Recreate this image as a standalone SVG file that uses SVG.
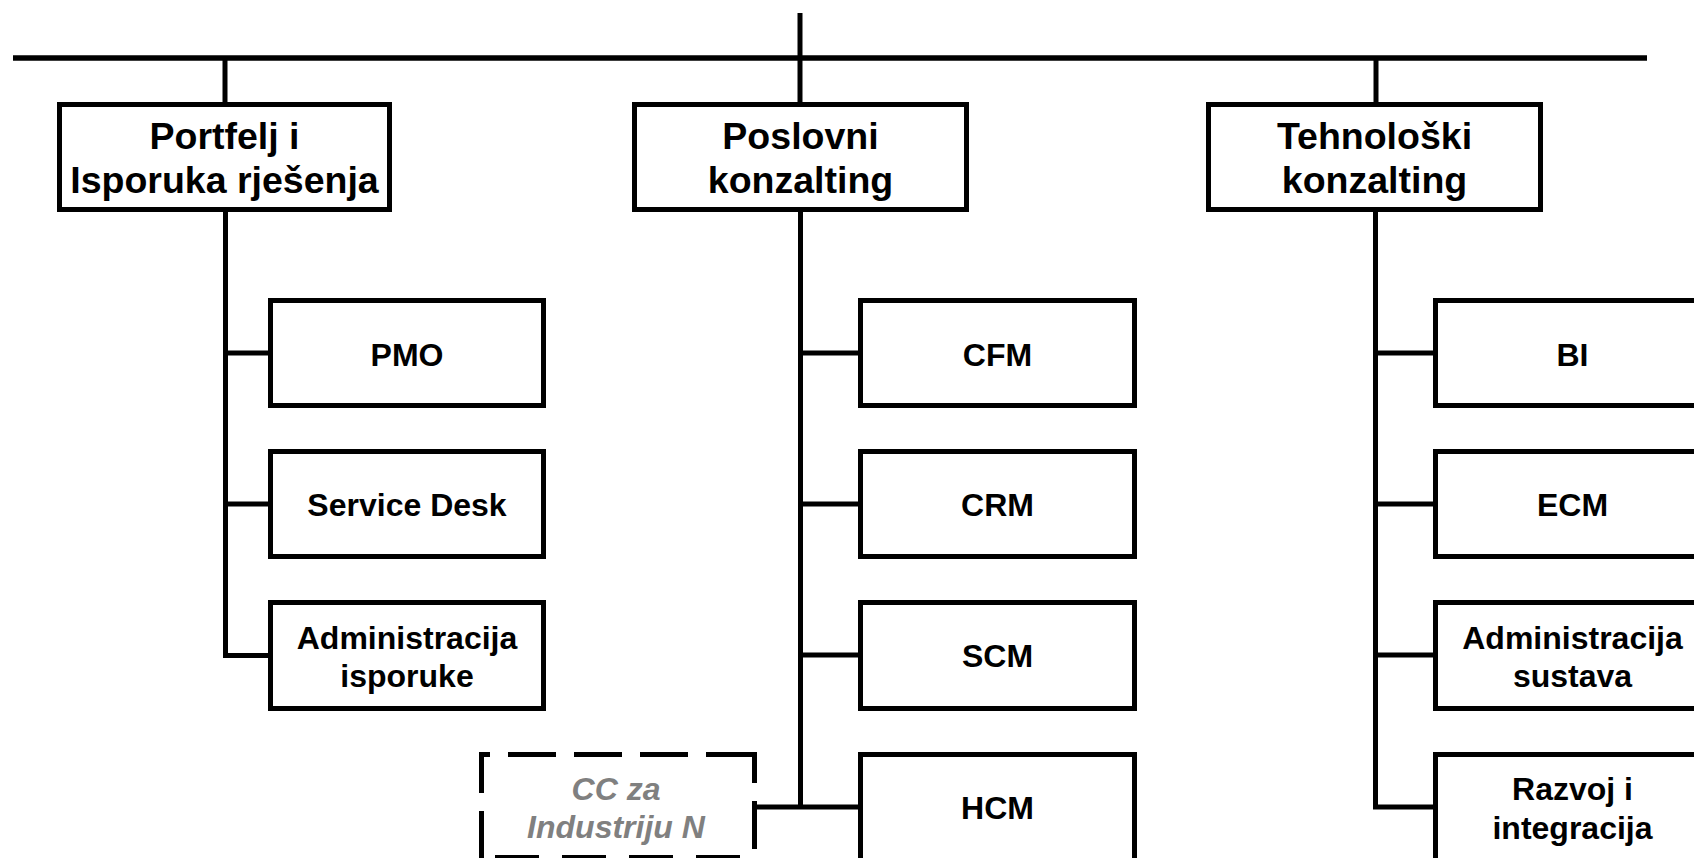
<svg xmlns="http://www.w3.org/2000/svg" width="1694" height="858" viewBox="0 0 1694 858">
<style>
.box{fill:#fff;stroke:#000;stroke-width:5}
.ln{stroke:#000;stroke-width:5;fill:none}
.dash{stroke:#000;stroke-width:5;fill:none;stroke-dasharray:48 18}
text{font-family:"Liberation Sans",Arial,sans-serif;font-weight:bold;text-anchor:middle;fill:#000}
.h{font-size:37.5px}
.c{font-size:32px}
.g{font-size:32px;font-style:italic;fill:#808080}
</style>
<rect width="1694" height="858" fill="#fff"/>
<g id="connectors">
<line class="ln" x1="13" y1="58" x2="1647" y2="58" style="stroke-width:5.5"/>
<line class="ln" x1="800" y1="13" x2="800" y2="103"/>
<line class="ln" x1="225" y1="58" x2="225" y2="103"/>
<line class="ln" x1="1376" y1="58" x2="1376" y2="103"/>
<polyline class="ln" points="225.5,211 225.5,655.5 268,655.5"/>
<line class="ln" x1="225.5" y1="353" x2="268" y2="353"/>
<line class="ln" x1="225.5" y1="504" x2="268" y2="504"/>
<polyline class="ln" points="800.5,211 800.5,807"/>
<line class="ln" x1="800.5" y1="353" x2="858" y2="353"/>
<line class="ln" x1="800.5" y1="504" x2="858" y2="504"/>
<line class="ln" x1="800.5" y1="655" x2="858" y2="655"/>
<line class="ln" x1="757" y1="807" x2="858" y2="807"/>
<polyline class="ln" points="1375.5,211 1375.5,807 1433,807"/>
<line class="ln" x1="1375.5" y1="353" x2="1433" y2="353"/>
<line class="ln" x1="1375.5" y1="504" x2="1433" y2="504"/>
<line class="ln" x1="1375.5" y1="655" x2="1433" y2="655"/>
</g>
<g id="portfelj">
<rect class="box" x="59.5" y="104.5" width="330" height="105"/>
<text class="h" x="224.5" y="148.5">Portfelj i</text>
<text class="h" x="224.5" y="192.5">Isporuka rješenja</text>
</g>
<g id="poslovni">
<rect class="box" x="634.5" y="104.5" width="332" height="105"/>
<text class="h" x="800.5" y="148.5">Poslovni</text>
<text class="h" x="800.5" y="192.5">konzalting</text>
</g>
<g id="tehnoloski">
<rect class="box" x="1208.5" y="104.5" width="332" height="105"/>
<text class="h" x="1374.5" y="148.5">Tehnološki</text>
<text class="h" x="1374.5" y="192.5">konzalting</text>
</g>
<g id="pmo">
<rect class="box" x="270.5" y="300.5" width="273" height="105"/>
<text class="c" x="407" y="365.5">PMO</text>
</g>
<g id="servicedesk">
<rect class="box" x="270.5" y="451.5" width="273" height="105"/>
<text class="c" x="407" y="516">Service Desk</text>
</g>
<g id="adminisporuke">
<rect class="box" x="270.5" y="602.5" width="273" height="106"/>
<text class="c" x="407" y="648.5">Administracija</text>
<text class="c" x="407" y="687">isporuke</text>
</g>
<g id="cfm">
<rect class="box" x="860.5" y="300.5" width="274" height="105"/>
<text class="c" x="997.5" y="365.5">CFM</text>
</g>
<g id="crm">
<rect class="box" x="860.5" y="451.5" width="274" height="105"/>
<text class="c" x="997.5" y="516">CRM</text>
</g>
<g id="scm">
<rect class="box" x="860.5" y="602.5" width="274" height="106"/>
<text class="c" x="997.5" y="667">SCM</text>
</g>
<g id="hcm">
<rect class="box" x="860.5" y="754.5" width="274" height="112"/>
<text class="c" x="997.5" y="819">HCM</text>
</g>
<g id="ccindustrija">
<line class="dash" x1="479" y1="754.5" x2="757" y2="754.5" stroke-dashoffset="37"/>
<line class="dash" x1="754.5" y1="752" x2="754.5" y2="858" stroke-dashoffset="17"/>
<line class="dash" x1="481.5" y1="752" x2="481.5" y2="858" stroke-dashoffset="7"/>
<line class="ln" x1="495" y1="857.5" x2="746" y2="857.5" style="stroke-dasharray:44 23"/>
<text class="g" x="616" y="800">CC za</text>
<text class="g" x="616" y="838">Industriju N</text>
</g>
<g id="bi">
<rect class="box" x="1435.5" y="300.5" width="274" height="105"/>
<text class="c" x="1572.5" y="365.5">BI</text>
</g>
<g id="ecm">
<rect class="box" x="1435.5" y="451.5" width="274" height="105"/>
<text class="c" x="1572.5" y="516">ECM</text>
</g>
<g id="adminsustava">
<rect class="box" x="1435.5" y="602.5" width="274" height="106"/>
<text class="c" x="1572.5" y="648.5">Administracija</text>
<text class="c" x="1572.5" y="687">sustava</text>
</g>
<g id="razvoj">
<rect class="box" x="1435.5" y="754.5" width="274" height="112"/>
<text class="c" x="1572.5" y="800">Razvoj i</text>
<text class="c" x="1572.5" y="838.5">integracija</text>
</g>
</svg>
